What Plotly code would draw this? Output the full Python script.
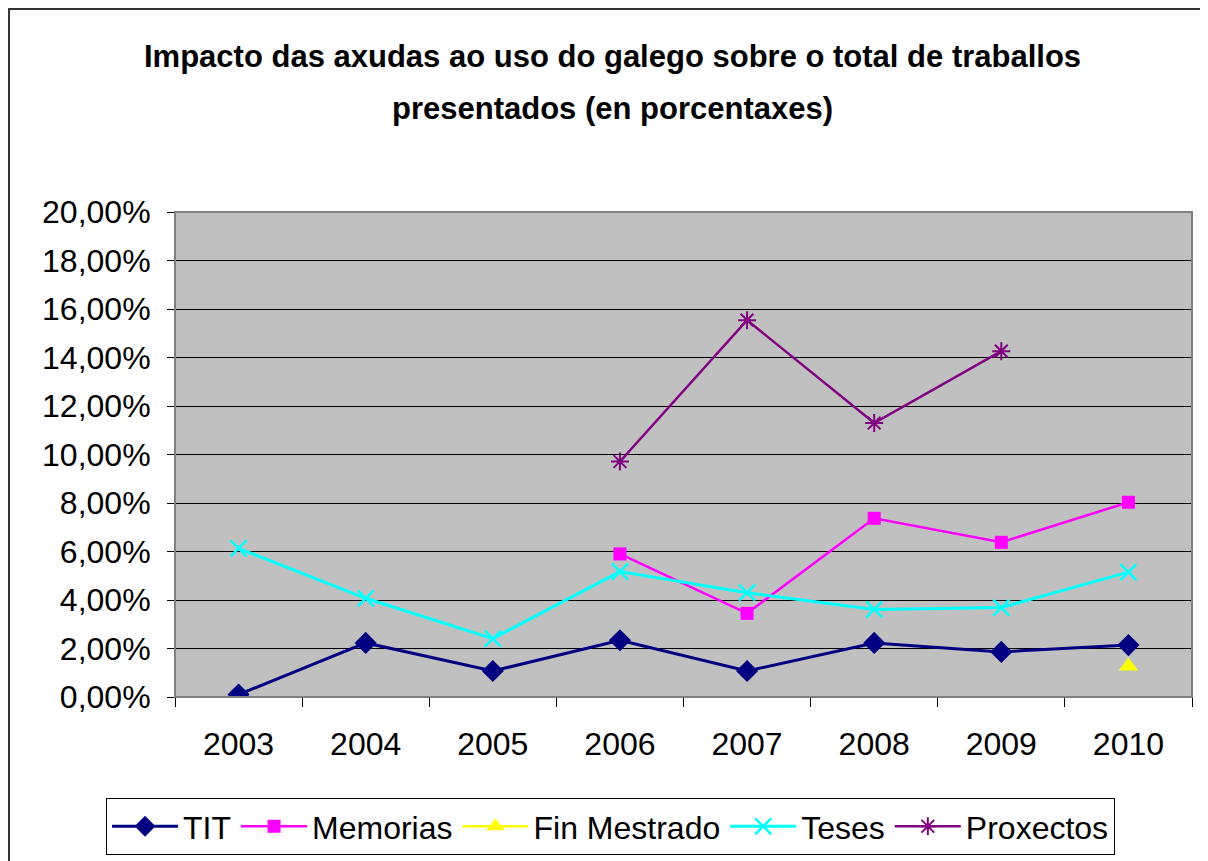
import plotly.graph_objects as go

anos = ['2003', '2004', '2005', '2006', '2007', '2008', '2009', '2010']

tit = [0.0010, 0.0223, 0.0107, 0.0234, 0.0107, 0.0223, 0.0186, 0.0214]
memorias = [None, None, None, 0.0590, 0.0345, 0.0737, 0.0638, 0.0803]
fin_mestrado = [None, None, None, None, None, None, None, 0.0127]
teses = [0.0613, 0.0407, 0.0241, 0.0517, 0.0430, 0.0361, 0.0369, 0.0515]
proxectos = [None, None, None, 0.0971, 0.1554, 0.1130, 0.1426, None]

titulo_1 = "Impacto das axudas ao uso do galego sobre o total de traballos"
titulo_2 = "presentados (en porcentaxes)"

fuente = 'Liberation Sans, Arial'

fig = go.Figure()
fig.add_trace(go.Scatter(
    x=anos, y=tit, name="TIT", mode="lines+markers",
    line=dict(color='#000080', width=3),
    marker=dict(symbol='diamond', size=17, color='#000080')
))
fig.add_trace(go.Scatter(
    x=anos, y=memorias, name="Memorias", mode="lines+markers",
    line=dict(color='#FF00FF', width=2.5),
    marker=dict(symbol='square', size=13, color='#FF00FF')
))
fig.add_trace(go.Scatter(
    x=anos, y=fin_mestrado, name="Fin Mestrado", mode="lines+markers",
    line=dict(color='#FFFF00', width=2.5),
    marker=dict(symbol='triangle-up', size=17, color='#FFFF00')
))
fig.add_trace(go.Scatter(
    x=anos, y=teses, name="Teses", mode="lines+markers",
    line=dict(color='#00FFFF', width=3),
    marker=dict(symbol='x-thin-open', size=16, color='#00FFFF', line=dict(color='#00FFFF', width=2.5))
))
fig.add_trace(go.Scatter(
    x=anos, y=proxectos, name="Proxectos", mode="lines+markers",
    line=dict(color='#800080', width=2.5),
    marker=dict(symbol='asterisk-open', size=15, color='#800080', line=dict(color='#800080', width=2))
))

# marco exterior do gráfico
fig.add_shape(type="rect", xref="paper", yref="paper",
              x0=-0.1632, x1=1.2, y0=-0.6, y1=1.4186,
              line=dict(color='#333333', width=2), fillcolor='rgba(0,0,0,0)')
# borde da área de trazado
fig.add_shape(type="rect", xref="paper", yref="paper",
              x0=0, x1=1, y0=0, y1=1,
              line=dict(color='#808080', width=2), fillcolor='rgba(0,0,0,0)')

# título en dúas liñas con máis separación
fig.add_annotation(text=f"<b>{titulo_1}</b>", xref="paper", yref="paper",
                   x=0.4297, y=1.3196, xanchor='center', yanchor='middle', showarrow=False,
                   font=dict(family=fuente, size=31, color='#000000'))
fig.add_annotation(text=f"<b>{titulo_2}</b>", xref="paper", yref="paper",
                   x=0.4297, y=1.2124, xanchor='center', yanchor='middle', showarrow=False,
                   font=dict(family=fuente, size=31, color='#000000'))

fig.update_xaxes(
    type='category', range=[-0.5, 7.5],
    showgrid=False, tickson='boundaries', ticks='outside', ticklen=9,
    tickcolor='#000000', showline=True, linecolor='#000000', linewidth=1,
    tickfont=dict(family=fuente, size=32, color='#000000'),
    ticklabelstandoff=19
)
fig.update_yaxes(
    range=[0, 0.2], dtick=0.02, tickformat='.2%',
    showgrid=True, gridcolor='#000000', gridwidth=1,
    ticks='outside', ticklen=7, tickcolor='#000000',
    showline=True, linecolor='#000000', linewidth=1, zeroline=False,
    tickfont=dict(family=fuente, size=32, color='#000000'),
    ticklabelstandoff=10
)
fig.update_layout(
    width=1208, height=861,
    separators=',.',
    paper_bgcolor='#FFFFFF', plot_bgcolor='#C0C0C0',
    margin=dict(l=167, r=24, t=204, b=172, autoexpand=False),
    legend=dict(
        orientation='h', xref='container', yref='container',
        x=0.4988, xanchor='center', y=0.0825, yanchor='top',
        bordercolor='#000000', borderwidth=1, bgcolor='#FFFFFF',
        font=dict(family=fuente, size=32, color='#000000'),
        itemwidth=66
    ),
    showlegend=True
)
fig.write_html("out.html")
